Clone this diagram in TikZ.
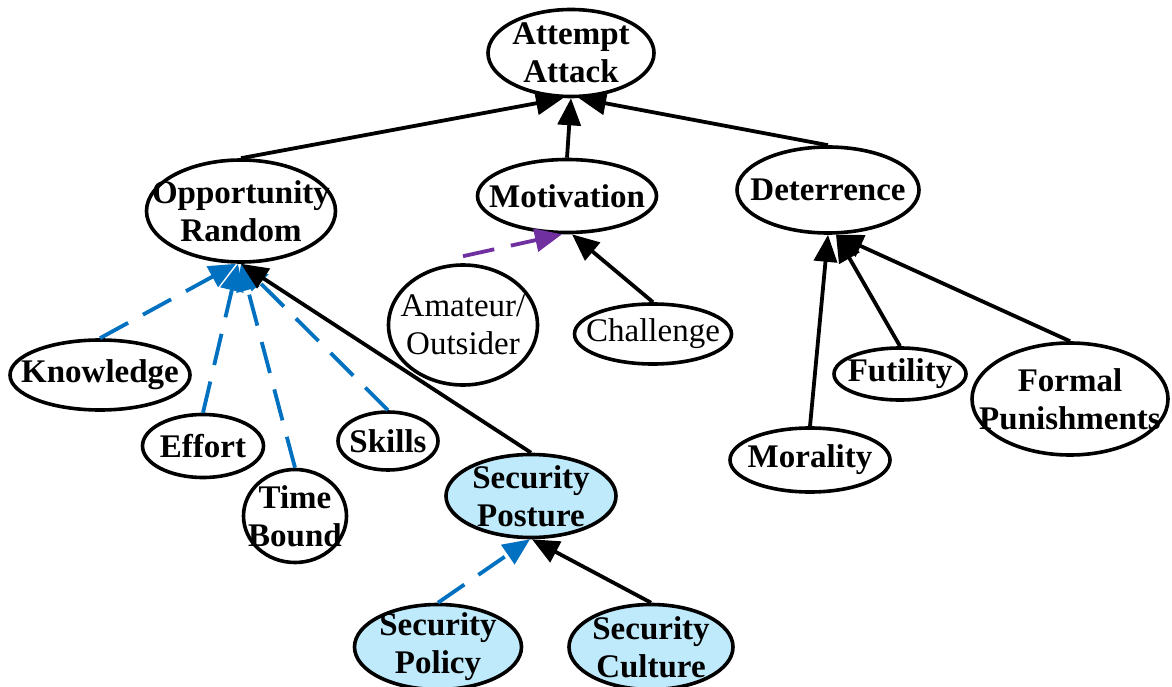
\documentclass[tikz,border=0pt]{standalone}
\usepackage{fontspec}
\setmainfont{Liberation Serif}
\usetikzlibrary{shapes.geometric,arrows.meta}
\definecolor{linkblue}{RGB}{0,112,192}
\definecolor{linkpurple}{RGB}{112,48,160}
\definecolor{postfill}{RGB}{190,234,251}
\begin{document}
\begin{tikzpicture}[x=1pt,y=-1pt,
  bubble/.style={ellipse,draw=black,line width=3.6pt,inner sep=0pt,fill=white},
  concept/.style 2 args={bubble,label={[align=center,inner sep=0pt,
    font=\fontsize{33}{38}\selectfont\bfseries]center:#1},#2},
  plain/.style 2 args={bubble,label={[align=center,inner sep=0pt,
    font=\fontsize{33}{38}\selectfont]center:#1},#2},
  posture/.style 2 args={concept={#1}{#2},fill=postfill},
  link/.style={line width=3.8pt,-{Triangle[length=27pt,width=23pt]}},
  weak/.style={link,linkblue,dash pattern=on 32pt off 17pt},
  weakp/.style={link,linkpurple,dash pattern=on 32pt off 17pt}]
\useasboundingbox (0,0) rectangle (1172,687);
% concepts
\node[concept={Attempt\\Attack}{minimum width=166pt,minimum height=87pt}] (att) at (571,53) {};
\node[concept={Opportunity\\Random}{minimum width=189pt,minimum height=102pt}] (opp) at (241,211) {};
\node[concept={Motivation}{minimum width=179pt,minimum height=73pt}] (mot) at (567,196) {};
\node[concept={Deterrence}{minimum width=182pt,minimum height=86pt}] (det) at (828,190) {};
\node[plain={Amateur/\\Outsider}{minimum width=149pt,minimum height=120pt}] (ama) at (463,325) {};
\node[plain={Challenge}{minimum width=157pt,minimum height=60pt}] (cha) at (653,334) {};
\node[concept={Knowledge}{minimum width=180pt,minimum height=70pt}] (kno) at (100,375) {};
\node[concept={Effort}{minimum width=121pt,minimum height=63pt}] (eff) at (203,446) {};
\node[concept={Time\\Bound}{minimum width=103pt,minimum height=93pt}] (tim) at (295,516) {};
\node[concept={Skills}{minimum width=100pt,minimum height=58pt}] (ski) at (388,441) {};
\node[posture={Security\\Posture}{minimum width=170pt,minimum height=83pt}] (pos) at (531,496) {};
\node[posture={Security\\Policy}{minimum width=167pt,minimum height=85pt}] (pol) at (438,647) {};
\node[posture={Security\\Culture}{minimum width=164pt,minimum height=85pt}] (cul) at (651,647) {};
\node[concept={Futility}{minimum width=132pt,minimum height=52pt}] (fut) at (900,374) {};
\node[concept={Formal\\Punishments}{minimum width=196pt,minimum height=112pt}] (pun) at (1070,399) {};
\node[concept={Morality}{minimum width=160pt,minimum height=64pt}] (mor) at (810,460) {};
% influences
\draw[link] (opp.north) -- ([xshift=-8pt]att.south);
\draw[link] (mot.north) -- (att.south);
\draw[link] (det.north) -- ([xshift=8pt]att.south);
\draw[weak] (kno.north) -- ([xshift=-5pt]opp.south);
\draw[weak] (eff.north) -- ([xshift=-3pt]opp.south);
\draw[weak] (tim.north) -- (opp.south);
\draw[weak] (ski.north) -- (opp.south);
\draw[link] (pos.north) -- (opp.south);
\draw[weakp] ([yshift=7pt]ama.north) -- ([xshift=-5pt]mot.south);
\draw[link] (cha.north) -- ([xshift=5pt]mot.south);
\draw[link] (mor.north) -- (det.south);
\draw[link] (fut.north) -- ([xshift=8pt]det.south);
\draw[link] (pun.north) -- ([xshift=8pt]det.south);
\draw[weak] (pol.north) -- ([xshift=-1pt]pos.south);
\draw[link] (cul.north) -- ([xshift=1pt]pos.south);
\end{tikzpicture}
\end{document}
